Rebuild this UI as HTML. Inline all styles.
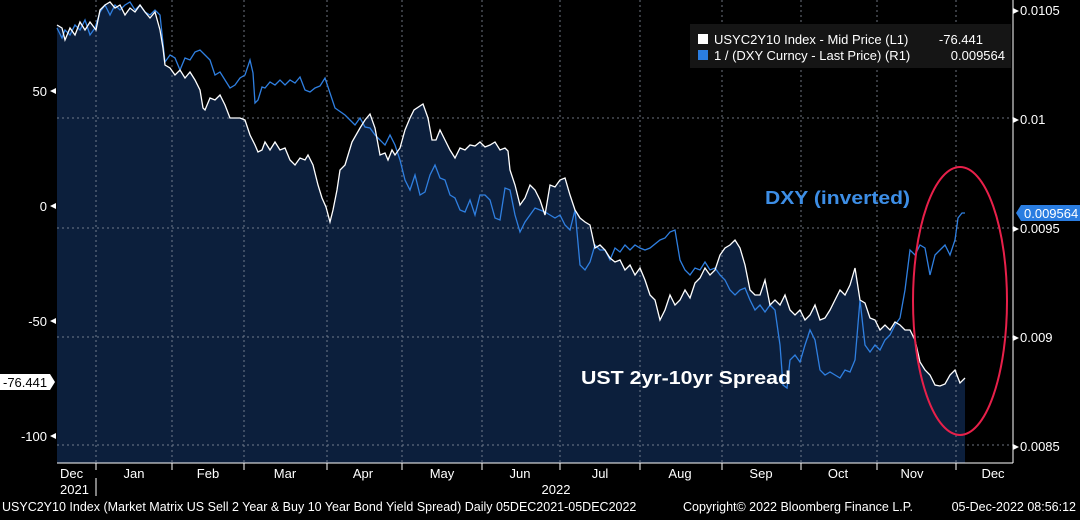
<!DOCTYPE html>
<html><head><meta charset="utf-8"><style>
body{margin:0;background:#000;width:1080px;height:515px;overflow:hidden;font-family:"Liberation Sans",sans-serif}
</style></head><body>
<svg width="1080" height="515" xmlns="http://www.w3.org/2000/svg" font-family="Liberation Sans, sans-serif">
<rect width="1080" height="515" fill="#000"/>
<polygon fill="#0c1f3c" points="57,463 57,25 62,28 65,40 70,28 75,35 80,22 85,30 90,22 96,30 100,10 105,5 110,2 115,8 120,5 125,15 130,8 135,12 140,5 145,12 150,18 155,12 160,30 163,48 165,65 170,68 175,75 180,70 185,78 190,72 195,80 200,90 203,108 205,110 210,98 215,100 220,95 225,105 230,118 240,118 245,120 250,135 255,145 258,152 262,150 265,142 270,150 275,142 280,150 285,148 290,160 295,165 300,158 305,160 308,155 313,165 318,185 322,198 326,207 330,222 333,210 337,190 340,170 345,165 352,142 360,128 365,120 370,114 375,128 380,155 385,153 388,160 392,150 395,155 400,148 405,130 410,118 414,110 423,104 428,118 432,140 436,140 440,130 445,140 450,150 455,158 460,148 465,150 470,145 475,146 480,142 485,147 490,145 495,142 500,150 505,148 508,151 510,170 515,185 520,205 525,198 530,185 535,190 540,200 545,215 550,185 555,187 560,180 565,178 570,195 575,210 580,218 585,222 590,225 595,248 600,245 605,250 610,258 615,262 620,260 625,270 630,265 635,275 640,268 645,280 650,295 655,300 660,320 665,310 670,295 675,305 680,300 685,290 690,298 695,283 700,278 705,268 710,275 715,270 720,255 725,248 730,245 735,240 740,248 745,265 750,290 755,295 760,295 765,280 770,305 775,300 780,305 785,295 790,310 795,315 800,310 805,320 810,315 815,305 820,320 825,318 830,310 835,300 840,290 845,295 850,285 855,268 860,300 865,303 870,318 875,320 880,330 885,325 890,330 895,322 900,325 905,330 910,330 915,340 920,362 925,370 930,375 935,385 940,386 945,384 950,375 955,370 960,383 965,378 965,463"/>
<g stroke="#8a93a0" stroke-width="1" stroke-dasharray="2,3" opacity="0.8">
<line x1="57" y1="118" x2="1013" y2="118"/><line x1="57" y1="228" x2="1013" y2="228"/><line x1="57" y1="337" x2="1013" y2="337"/><line x1="57" y1="445" x2="1013" y2="445"/>
<line x1="96" y1="0" x2="96" y2="463"/><line x1="172" y1="0" x2="172" y2="463"/><line x1="244" y1="0" x2="244" y2="463"/><line x1="327" y1="0" x2="327" y2="463"/><line x1="402" y1="0" x2="402" y2="463"/><line x1="482" y1="0" x2="482" y2="463"/><line x1="560" y1="0" x2="560" y2="463"/><line x1="640" y1="0" x2="640" y2="463"/><line x1="722" y1="0" x2="722" y2="463"/><line x1="801" y1="0" x2="801" y2="463"/><line x1="877" y1="0" x2="877" y2="463"/><line x1="956" y1="0" x2="956" y2="463"/>
</g>
<polyline fill="none" stroke="#2f7fe0" stroke-width="1.3" points="57,28 62,38 65,30 70,35 75,25 80,30 85,20 90,35 95,28 100,12 105,5 110,15 115,5 120,10 125,5 130,2 135,10 140,5 145,12 150,15 155,10 160,15 165,62 170,55 175,58 180,70 185,58 190,60 195,52 200,50 205,55 210,60 215,75 220,72 225,80 230,88 235,85 240,78 245,75 250,60 253,73 255,103 258,100 262,87 265,88 270,82 275,85 280,80 285,85 290,80 295,83 300,77 305,90 310,92 315,88 320,86 325,78 335,108 345,115 350,120 355,125 360,118 365,127 370,128 375,135 380,140 385,145 390,135 395,145 400,160 405,180 410,190 415,175 420,195 425,192 430,175 435,165 440,178 445,180 450,195 455,198 460,210 465,212 470,200 475,215 480,195 485,195 490,200 495,218 500,220 505,188 510,190 515,215 520,232 525,222 530,215 535,208 540,210 545,212 550,215 555,218 560,215 565,225 570,230 575,210 580,265 585,270 590,262 595,245 600,250 605,250 610,260 615,248 620,252 625,245 630,250 635,245 640,248 645,250 650,248 660,240 665,238 670,232 675,230 680,260 685,270 690,275 695,268 700,270 705,262 710,270 715,268 720,275 725,280 730,290 735,295 740,290 745,288 750,300 755,310 760,305 765,312 770,305 775,310 780,345 783,385 787,388 790,360 795,355 800,362 805,345 810,330 815,340 820,370 825,375 830,372 835,375 840,378 845,370 850,372 855,360 860,300 865,345 870,352 875,345 880,350 885,340 890,335 895,325 900,318 905,290 910,250 915,255 920,245 925,248 930,275 935,255 940,250 945,245 950,255 955,240 958,218 962,213 965,213"/>
<polyline fill="none" stroke="#fff" stroke-width="1.3" points="57,25 62,28 65,40 70,28 75,35 80,22 85,30 90,22 96,30 100,10 105,5 110,2 115,8 120,5 125,15 130,8 135,12 140,5 145,12 150,18 155,12 160,30 163,48 165,65 170,68 175,75 180,70 185,78 190,72 195,80 200,90 203,108 205,110 210,98 215,100 220,95 225,105 230,118 240,118 245,120 250,135 255,145 258,152 262,150 265,142 270,150 275,142 280,150 285,148 290,160 295,165 300,158 305,160 308,155 313,165 318,185 322,198 326,207 330,222 333,210 337,190 340,170 345,165 352,142 360,128 365,120 370,114 375,128 380,155 385,153 388,160 392,150 395,155 400,148 405,130 410,118 414,110 423,104 428,118 432,140 436,140 440,130 445,140 450,150 455,158 460,148 465,150 470,145 475,146 480,142 485,147 490,145 495,142 500,150 505,148 508,151 510,170 515,185 520,205 525,198 530,185 535,190 540,200 545,215 550,185 555,187 560,180 565,178 570,195 575,210 580,218 585,222 590,225 595,248 600,245 605,250 610,258 615,262 620,260 625,270 630,265 635,275 640,268 645,280 650,295 655,300 660,320 665,310 670,295 675,305 680,300 685,290 690,298 695,283 700,278 705,268 710,275 715,270 720,255 725,248 730,245 735,240 740,248 745,265 750,290 755,295 760,295 765,280 770,305 775,300 780,305 785,295 790,310 795,315 800,310 805,320 810,315 815,305 820,320 825,318 830,310 835,300 840,290 845,295 850,285 855,268 860,300 865,303 870,318 875,320 880,330 885,325 890,330 895,322 900,325 905,330 910,330 915,340 920,362 925,370 930,375 935,385 940,386 945,384 950,375 955,370 960,383 965,378"/>
<ellipse cx="960" cy="301" rx="47" ry="134" fill="none" stroke="#e8204a" stroke-width="2"/>
<line x1="57" y1="463" x2="1013" y2="463" stroke="#fff" stroke-width="1"/>
<line x1="1013" y1="0" x2="1013" y2="463" stroke="#fff" stroke-width="1"/>
<g fill="#fff" font-size="13">
<text x="47" y="96" text-anchor="end">50</text><text x="47" y="211" text-anchor="end">0</text><text x="47" y="326" text-anchor="end">-50</text><text x="47" y="441" text-anchor="end">-100</text>
<path d="M50,91 l6,-3 v6z M50,206 l6,-3 v6z M50,321 l6,-3 v6z M50,436 l6,-3 v6z"/>
<text x="1020" y="15">0.0105</text><text x="1020" y="124">0.01</text><text x="1020" y="233">0.0095</text><text x="1020" y="342">0.009</text><text x="1020" y="451">0.0085</text>
<path d="M1013,8 l6,3 l-6,3z M1013,117 l6,3 l-6,3z M1013,226 l6,3 l-6,3z M1013,335 l6,3 l-6,3z M1013,444 l6,3 l-6,3z"/>
<text x="60" y="478">Dec</text><text x="60" y="494">2021</text><text x="134" y="478" text-anchor="middle">Jan</text><text x="208" y="478" text-anchor="middle">Feb</text><text x="285" y="478" text-anchor="middle">Mar</text><text x="363" y="478" text-anchor="middle">Apr</text><text x="442" y="478" text-anchor="middle">May</text><text x="520" y="478" text-anchor="middle">Jun</text><text x="600" y="478" text-anchor="middle">Jul</text><text x="680" y="478" text-anchor="middle">Aug</text><text x="761" y="478" text-anchor="middle">Sep</text><text x="838" y="478" text-anchor="middle">Oct</text><text x="912" y="478" text-anchor="middle">Nov</text><text x="993" y="478" text-anchor="middle">Dec</text>
<text x="556" y="494" text-anchor="middle">2022</text>
<text x="2" y="511" font-size="12.5">USYC2Y10 Index (Market Matrix US Sell 2 Year &amp; Buy 10 Year Bond Yield Spread)  Daily 05DEC2021-05DEC2022</text>
<text x="683" y="511" font-size="12.5">Copyright© 2022 Bloomberg Finance L.P.</text>
<text x="1076" y="511" font-size="12.5" text-anchor="end">05-Dec-2022 08:56:12</text>
</g>
<g stroke="#fff"><line x1="96" y1="463" x2="96" y2="470"/><line x1="172" y1="463" x2="172" y2="470"/><line x1="244" y1="463" x2="244" y2="470"/><line x1="327" y1="463" x2="327" y2="470"/><line x1="402" y1="463" x2="402" y2="470"/><line x1="482" y1="463" x2="482" y2="470"/><line x1="560" y1="463" x2="560" y2="470"/><line x1="640" y1="463" x2="640" y2="470"/><line x1="722" y1="463" x2="722" y2="470"/><line x1="801" y1="463" x2="801" y2="470"/><line x1="877" y1="463" x2="877" y2="470"/><line x1="956" y1="463" x2="956" y2="470"/><line x1="96" y1="478" x2="96" y2="496"/></g>
<rect x="690" y="24" width="321" height="44" fill="#151515"/>
<rect x="698" y="34" width="10" height="10" fill="#fff"/><rect x="698" y="50" width="10" height="10" fill="#2a7de1"/>
<g fill="#fff" font-size="13"><text x="714" y="44">USYC2Y10 Index - Mid Price (L1)</text><text x="983" y="44" text-anchor="end">-76.441</text>
<text x="714" y="60">1 / (DXY Curncy - Last Price) (R1)</text><text x="1005" y="60" text-anchor="end">0.009564</text></g>
<path d="M1021,205 h59 v16 h-59 l-5,-8z" fill="#2a7de1"/><text x="1024" y="218" fill="#fff" font-size="13">0.009564</text>
<path d="M0,374 h50 l5,8 l-5,8 h-50z" fill="#fff"/><text x="3" y="387" fill="#000" font-size="13">-76.441</text>
<text x="765" y="204" fill="#3d8ee6" font-size="18" font-weight="bold" textLength="145" lengthAdjust="spacingAndGlyphs">DXY (inverted)</text>
<text x="581" y="384" fill="#fff" font-size="18" font-weight="bold" textLength="210" lengthAdjust="spacingAndGlyphs">UST 2yr-10yr Spread</text>
</svg>
</body></html>
